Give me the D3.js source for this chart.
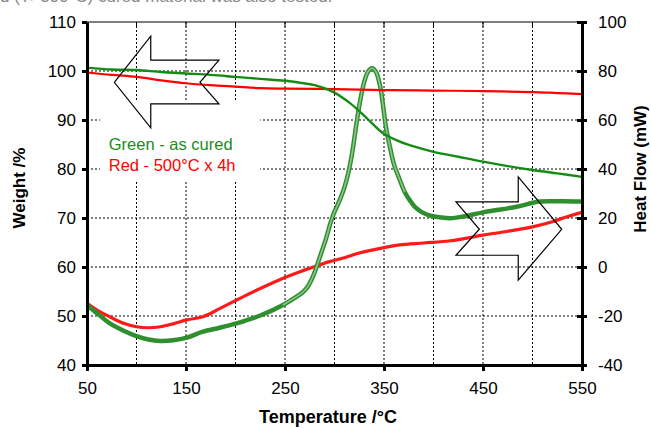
<!DOCTYPE html>
<html>
<head>
<meta charset="utf-8">
<script src="https://cdn.jsdelivr.net/npm/d3@7"></script>
<style>
  body { margin: 0; background: #fff; }
  text { font-family: "Liberation Sans", Arial, sans-serif; }
</style>
</head>
<body>
<div id="plot"></div>
<script>
const WIDTH = 651, HEIGHT = 428;
const MARGINS = {left: 87, right: 69, top: 22, bottom: 63};

// temperature (°C) samples and values
const greenWtT = [50, 75, 100, 125, 150, 175, 200, 225, 250, 265, 280, 298, 316, 333, 349, 366, 380, 400, 425, 450, 475, 500, 525, 550];
const greenWt  = [100.7, 100.3, 100.2, 99.8, 99.5, 99.2, 98.8, 98.4, 98.0, 97.6, 97.1, 95.8, 93.4, 90.3, 87.3, 85.6, 84.6, 83.5, 82.5, 81.5, 80.6, 79.8, 79.1, 78.4];

const redWtT = [50, 75, 100, 125, 150, 175, 200, 225, 250, 300, 350, 400, 450, 500, 525, 550];
const redWt  = [99.7, 99.2, 98.8, 98.1, 97.5, 97.1, 96.8, 96.5, 96.4, 96.3, 96.1, 96.0, 95.9, 95.7, 95.5, 95.3];

const greenHfT = [50, 62, 73, 87, 100, 112, 124, 137, 151, 167, 184, 201, 225, 248, 262, 268, 273, 277, 281, 286, 291, 298, 306, 310, 314, 318, 322, 326, 330, 334, 338, 342, 346, 349, 352, 356, 360, 366, 371, 376, 382, 389, 398, 406, 417, 430, 450, 484, 507, 530, 550];
const greenHf  = [-15.5, -19.5, -23, -26, -28.2, -29.6, -30.2, -29.9, -28.8, -26.4, -24.8, -23, -19.8, -15.5, -12, -10.3, -8, -5, -1, 5, 11, 20.5, 28, 32.5, 38.5, 47, 58, 68, 75.5, 79.8, 81.1, 79.5, 74, 66, 57, 49, 42, 35.5, 30.5, 27.3, 24.2, 22.2, 20.8, 20.3, 19.9, 20.6, 22.3, 24.6, 26.7, 26.8, 26.7];

const redHfT = [50, 62, 73, 87, 100, 112, 124, 137, 151, 167, 184, 201, 225, 248, 265, 275, 295, 310, 326, 345, 366, 390, 417, 450, 475, 500, 520, 535, 550];
const redHf  = [-14.8, -18, -20.3, -23, -24.4, -24.8, -24.4, -23.2, -21.6, -20.3, -17, -13.5, -8.8, -4.6, -1.9, -0.5, 2.2, 3.8, 5.8, 7.5, 9, 9.8, 10.7, 13, 14.6, 16.4, 18.5, 20.5, 22.3];

const xTicks = [50, 150, 250, 350, 450, 550];
const xGrid = [100, 150, 200, 250, 300, 350, 400, 450, 500];
const wtTicks = [40, 50, 60, 70, 80, 90, 100, 110];
const hfTicks = [-40, -20, 0, 20, 40, 60, 80, 100];

// arrow outlines in (temperature, weight) units
const leftArrow = [[77.6, 97.7], [114.4, 107.1], [114.4, 102.2], [183.3, 102.2], [164.1, 97.7], [183.3, 93.3], [114.4, 93.3], [114.4, 88.4]];
const rightArrow = [[422.7, 73.3], [485.6, 73.3], [485.6, 78.4], [529.5, 67.7], [485.6, 57.3], [485.6, 62.4], [422.7, 62.4], [446.3, 67.7]];

const VIS_W = WIDTH - MARGINS.left - MARGINS.right;
const VIS_H = HEIGHT - MARGINS.top - MARGINS.bottom;

const X = d3.scaleLinear().domain([50, 550]).range([MARGINS.left, MARGINS.left + VIS_W]);
const YW = d3.scaleLinear().domain([40, 110]).range([MARGINS.top + VIS_H, MARGINS.top]);
const YH = d3.scaleLinear().domain([-40, 100]).range([MARGINS.top + VIS_H, MARGINS.top]);

const svg = d3.select('#plot').append('svg')
    .attr('width', WIDTH)
    .attr('height', HEIGHT);

// cut-off caption line from the page above
svg.append('text')
    .attr('x', 0).attr('y', 2)
    .attr('font-size', '17px')
    .attr('fill', '#888')
    .text('d (T>300°C) cured material was also tested.');

// dashed grid
svg.append('g').selectAll('line')
    .data(xGrid).enter().append('line')
        .attr('x1', d => X(d)).attr('x2', d => X(d))
        .attr('y1', YW(110)).attr('y2', YW(40))
        .attr('stroke', '#000').attr('stroke-width', 1)
        .attr('stroke-dasharray', '2,2');
svg.append('g').selectAll('line')
    .data(wtTicks.filter(d => d > 40 && d < 110)).enter().append('line')
        .attr('x1', X(50)).attr('x2', X(550))
        .attr('y1', d => YW(d)).attr('y2', d => YW(d))
        .attr('stroke', '#000').attr('stroke-width', 1)
        .attr('stroke-dasharray', '2,2');

// white box behind the legend text
svg.append('rect')
    .attr('x', X(63)).attr('y', YW(93.9))
    .attr('width', X(225) - X(63)).attr('height', YW(77.5) - YW(93.9))
    .attr('fill', '#fff');

// lines
const lineW = d3.line().curve(d3.curveCatmullRom.alpha(0.5)).x(d => X(d[0])).y(d => YW(d[1]));
const lineH = d3.line().curve(d3.curveCatmullRom.alpha(0.5)).x(d => X(d[0])).y(d => YH(d[1]));

svg.append('path')
    .datum(redHfT.map((t, i) => [t, redHf[i]]))
    .attr('d', lineH).attr('fill', 'none')
    .attr('stroke', '#ff1a1a').attr('stroke-width', 3.2);

const ghf = greenHfT.map((t, i) => [t, greenHf[i]]);
svg.append('path')
    .datum(ghf)
    .attr('d', lineH).attr('fill', 'none')
    .attr('stroke', '#2f8f2f').attr('stroke-width', 4.5);
// lighter core over the peak part
svg.append('path')
    .datum(ghf.filter(d => d[0] >= 240 && d[0] <= 372))
    .attr('d', lineH).attr('fill', 'none')
    .attr('stroke', '#8cc88c').attr('stroke-width', 1.6);

svg.append('path')
    .datum(redWtT.map((t, i) => [t, redWt[i]]))
    .attr('d', lineW).attr('fill', 'none')
    .attr('stroke', '#ff0000').attr('stroke-width', 2.2);

svg.append('path')
    .datum(greenWtT.map((t, i) => [t, greenWt[i]]))
    .attr('d', lineW).attr('fill', 'none')
    .attr('stroke', '#148c14').attr('stroke-width', 2.4);

// arrows
[leftArrow, rightArrow].forEach(a => {
    svg.append('polygon')
        .attr('points', a.map(p => X(p[0]) + ',' + YW(p[1])).join(' '))
        .attr('fill', 'none')
        .attr('stroke', '#000').attr('stroke-width', 1.2);
});

// legend text
svg.append('text')
    .attr('x', X(72)).attr('y', YW(83.8))
    .attr('font-size', '16.5px').attr('fill', '#1a8c1a')
    .text('Green - as cured');
svg.append('text')
    .attr('x', X(72)).attr('y', YW(79.5))
    .attr('font-size', '16.5px').attr('fill', '#ff0000')
    .text('Red - 500°C x 4h');

// top frame line with small ticks
svg.append('line')
    .attr('x1', X(50)).attr('x2', X(550))
    .attr('y1', YW(110)).attr('y2', YW(110))
    .attr('stroke', '#000').attr('stroke-width', 1.2);
svg.append('g').selectAll('line')
    .data(xGrid).enter().append('line')
        .attr('x1', d => X(d)).attr('x2', d => X(d))
        .attr('y1', YW(110)).attr('y2', YW(110) + 5)
        .attr('stroke', '#000').attr('stroke-width', 1);

// axes
const styleAxis = (g, size) => {
    g.select('.domain').attr('stroke-width', 3).attr('stroke', '#000');
    g.selectAll('.tick line').attr('stroke-width', 3).attr('stroke', '#000');
    g.selectAll('.tick text').attr('font-size', size).attr('fill', '#000')
        .attr('font-family', '"Liberation Sans", Arial, sans-serif');
};
const plain = d => String(d);

svg.append('g')
    .attr('transform', 'translate(' + MARGINS.left + ',0)')
    .call(d3.axisLeft(YW).tickValues(wtTicks).tickFormat(plain).tickSize(5).tickSizeOuter(0).tickPadding(6))
    .call(g => styleAxis(g, '17px'));

svg.append('g')
    .attr('transform', 'translate(0,' + (MARGINS.top + VIS_H) + ')')
    .call(d3.axisBottom(X).tickValues(xTicks).tickFormat(plain).tickSize(6).tickSizeOuter(0).tickPadding(11))
    .call(g => styleAxis(g, '17px'));

const right = svg.append('g')
    .attr('transform', 'translate(' + (MARGINS.left + VIS_W) + ',0)')
    .call(d3.axisRight(YH).tickValues(hfTicks).tickFormat(plain).tickSize(5).tickSizeOuter(0).tickPadding(11))
    .call(g => styleAxis(g, '17px'));
right.selectAll('.tick line').attr('x1', -5);

// axis titles
svg.append('text')
    .attr('x', 328).attr('y', 423)
    .attr('text-anchor', 'middle')
    .attr('font-size', '18px').attr('font-weight', 'bold')
    .text('Temperature /°C');
svg.append('text')
    .attr('transform', 'translate(25,188) rotate(-90)')
    .attr('text-anchor', 'middle')
    .attr('font-size', '17px').attr('font-weight', 'bold')
    .text('Weight /%');
svg.append('text')
    .attr('transform', 'translate(646,' + YH(40) + ') rotate(-90)')
    .attr('text-anchor', 'middle')
    .attr('font-size', '17px').attr('font-weight', 'bold')
    .text('Heat Flow (mW)');
</script>
</body>
</html>
